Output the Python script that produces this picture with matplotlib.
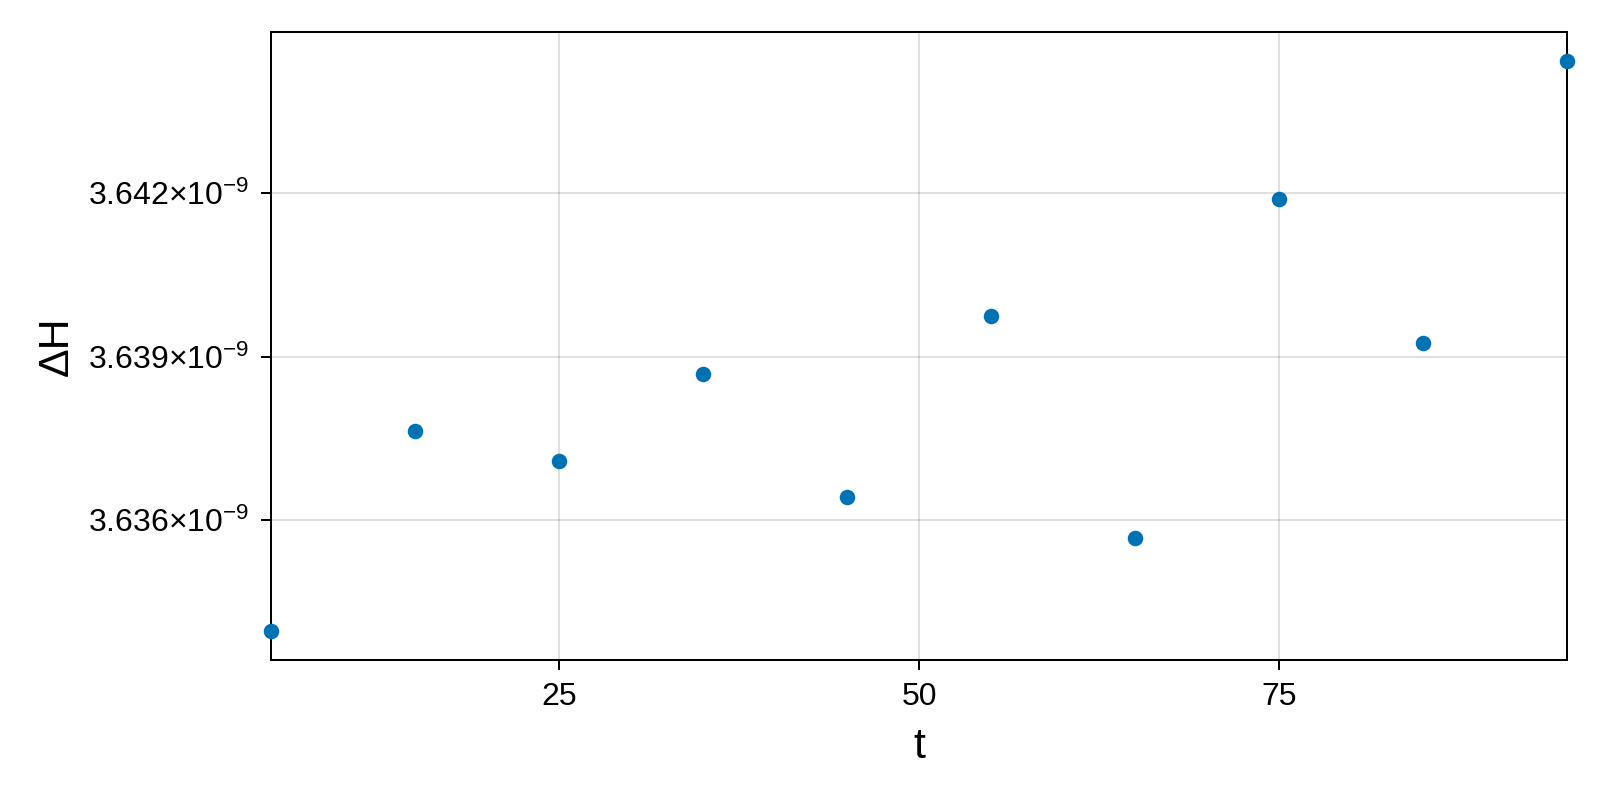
#!/usr/bin/env python3

import matplotlib
matplotlib.use("Agg")
from matplotlib import pyplot
from matplotlib.ticker import FixedLocator, FuncFormatter

pyplot.rcParams["font.family"] = ["Liberation Sans", "DejaVu Sans"]
pyplot.rcParams["mathtext.fontset"] = "custom"
pyplot.rcParams["mathtext.rm"] = "Liberation Sans"
pyplot.rcParams["mathtext.default"] = "regular"

# data
t = [5, 15, 25, 35, 45, 55, 65, 75, 85, 95]
dH = [3.633956e-9, 3.637631e-9, 3.637088e-9, 3.638681e-9, 3.636431e-9,
      3.639750e-9, 3.635663e-9, 3.641888e-9, 3.639244e-9, 3.644438e-9]
x_ticks = [25, 50, 75]
y_ticks = [3.636e-9, 3.639e-9, 3.642e-9]


def sci_label(v, pos):
    return r"$%.3f{\times}10^{-9}$" % (v * 1e9)


fig = pyplot.figure(figsize = (16, 8), dpi = 100)
# axes box: 271..1567 px across, 32..660 px down
ax = fig.add_axes([0.169375, 0.175, 0.81, 0.785])

ax.scatter(t, dH, s = 125, color = "#0072B2", zorder = 3, clip_on = False,
           linewidths = 0)

lo, hi = min(dH), max(dH)
pad = (hi - lo) * 0.05
ax.set_ylim(lo - pad, hi + pad)
ax.set_xlim(5, 95)

ax.xaxis.set_major_locator(FixedLocator(x_ticks))
ax.yaxis.set_major_locator(FixedLocator(y_ticks))
ax.yaxis.set_major_formatter(FuncFormatter(sci_label))

ax.grid(True, color = "black", alpha = 0.12, lw = 1.44)
ax.set_axisbelow(True)
for s in ax.spines.values():
    s.set_linewidth(1.44)
ax.tick_params(direction = "out", length = 7, width = 1.44, labelsize = 23)
ax.tick_params(axis = "x", pad = 9)
ax.tick_params(axis = "y", pad = 8.5)

ax.set_xlabel("t", fontsize = 31, labelpad = 11)
ax.set_ylabel("ΔH", fontsize = 31, labelpad = 8.5)

fig.savefig("out.png")
